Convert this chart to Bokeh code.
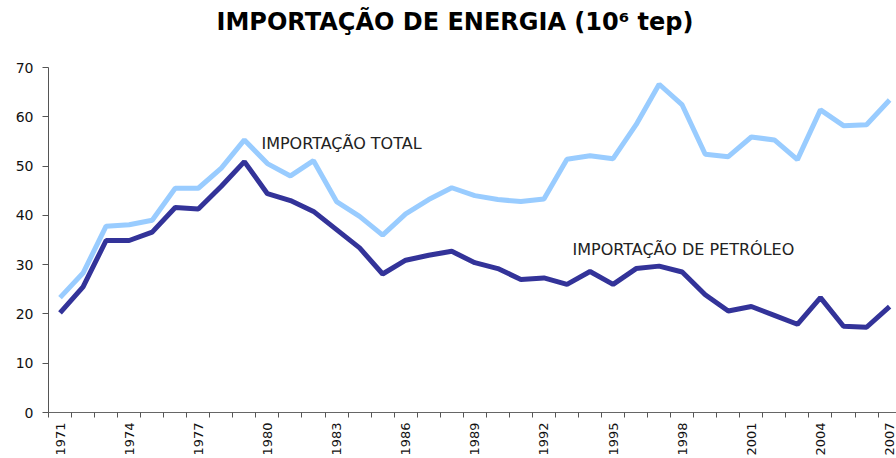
import math
from bokeh.plotting import figure
from bokeh.models import FixedTicker, Range1d, Label, Title
from bokeh.embed import file_html
from bokeh.resources import INLINE

years = list(range(1971, 2008))
total = [23.3, 28.3, 37.8, 38.1, 39.0, 45.5, 45.5, 49.6, 55.3, 50.5,
         48.0, 51.1, 42.8, 39.8, 36.0, 40.3, 43.2, 45.6, 44.0, 43.2,
         42.8, 43.3, 51.4, 52.1, 51.5, 58.4, 66.6, 62.4, 52.4, 51.9,
         55.9, 55.3, 51.3, 61.4, 58.2, 58.4, 63.4]
petroleo = [20.2, 25.5, 34.9, 34.9, 36.6, 41.6, 41.3, 45.9, 50.9, 44.4,
            43.0, 40.8, 37.1, 33.4, 28.1, 30.9, 31.9, 32.7, 30.4, 29.2,
            27.0, 27.3, 26.0, 28.6, 26.0, 29.2, 29.7, 28.5, 23.9, 20.6,
            21.5, 19.7, 17.9, 23.3, 17.5, 17.3, 21.5]
year_labels = [1971, 1974, 1977, 1980, 1983, 1986, 1989, 1992, 1995, 1998, 2001, 2004, 2007]
y_ticks = [0, 10, 20, 30, 40, 50, 60, 70]

title_text = "IMPORTAÇÃO DE ENERGIA (10⁶ tep)"
label_total = "IMPORTAÇÃO TOTAL"
label_petroleo = "IMPORTAÇÃO DE PETRÓLEO"

p = figure(width=896, height=458, output_backend="svg", toolbar_location=None,
           x_range=Range1d(1970.5, 2007.3), y_range=Range1d(0, 70),
           min_border_left=48, min_border_right=0, min_border_top=67,
           min_border_bottom=45, title=title_text)

p.title.text_font = "DejaVu Sans"
p.title.text_font_style = "bold"
p.title.text_font_size = "24px"
p.title.text_color = "#000000"
p.title.align = "left"
p.title.vertical_align = "bottom"
p.title.standoff = 0
p.title.offset = 168

# empty spacer between the title and the plot frame
p.add_layout(Title(text=" ", text_font_size="10px", standoff=19), "above")

p.outline_line_color = None
p.xgrid.visible = False
p.ygrid.visible = False
p.background_fill_color = "white"
p.border_fill_color = "white"

p.line(years, total, line_color="#99CCFF", line_width=5)
p.line(years, petroleo, line_color="#333399", line_width=5)

boundaries = [y - 0.5 for y in years] + [years[-1] + 0.5]
p.xaxis.ticker = FixedTicker(ticks=year_labels, minor_ticks=boundaries)
p.xaxis.major_tick_out = 0
p.xaxis.major_tick_in = 0
p.xaxis.minor_tick_out = 5
p.xaxis.minor_tick_in = 0
p.xaxis.minor_tick_line_color = "#555555"
p.xaxis.major_label_orientation = math.pi / 2
p.xaxis.major_label_standoff = 5
p.xaxis.major_label_text_font = "DejaVu Sans"
p.xaxis.major_label_text_font_size = "13px"
p.xaxis.major_label_text_color = "#111111"
p.xaxis.axis_line_color = "#666666"

p.yaxis.ticker = FixedTicker(ticks=y_ticks)
p.yaxis.major_tick_out = 6
p.yaxis.major_tick_in = 0
p.yaxis.minor_tick_line_color = None
p.yaxis.major_tick_line_color = "#555555"
p.yaxis.major_label_standoff = 9
p.yaxis.major_label_text_font = "DejaVu Sans"
p.yaxis.major_label_text_font_size = "14px"
p.yaxis.major_label_text_color = "#111111"
p.yaxis.axis_line_color = "#555555"

p.add_layout(Label(x=1979.74, y=54.5, text=label_total, text_font="DejaVu Sans",
                   text_font_size="16px", text_color="#222222",
                   text_baseline="middle", text_align="left"))
p.add_layout(Label(x=1993.24, y=33.1, text=label_petroleo, text_font="DejaVu Sans",
                   text_font_size="16px", text_color="#222222",
                   text_baseline="middle", text_align="left"))

open("out.html", "w").write(file_html(p, INLINE))
